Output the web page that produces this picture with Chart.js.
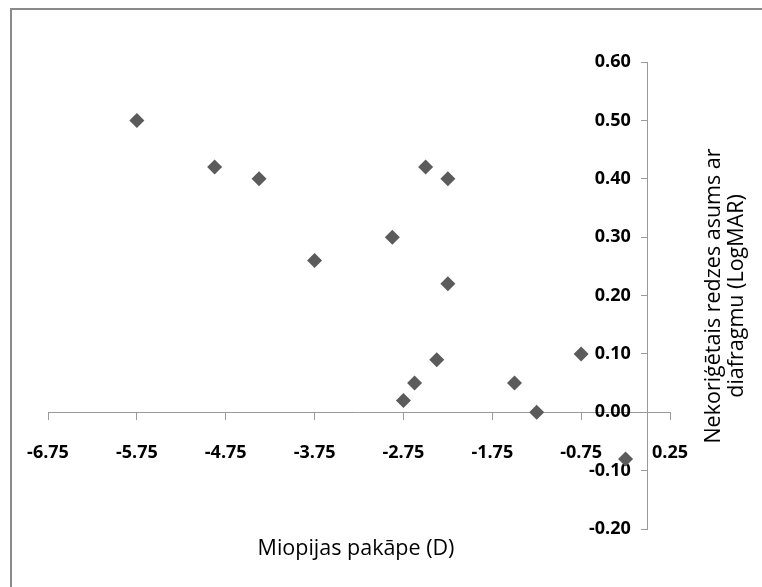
<!DOCTYPE html>
<html>
<head>
<meta charset="utf-8">
<script src="https://cdn.jsdelivr.net/npm/chart.js@4/dist/chart.umd.min.js"></script>
<style>
  html, body { margin: 0; padding: 0; background: #fff; }
  #wrap { position: relative; width: 762px; height: 587px; }
</style>
</head>
<body>
<div id="wrap"><canvas id="c" width="762" height="587"></canvas></div>
<script>
// Data
const myopiaD = [-5.75, -4.875, -4.375, -3.75, -2.875, -2.5, -2.25, -2.25, -2.375, -2.625, -2.75, -1.5, -1.25, -0.75, -0.25];
const logMAR  = [0.50, 0.42, 0.40, 0.26, 0.30, 0.42, 0.40, 0.22, 0.09, 0.05, 0.02, 0.05, 0.00, 0.10, -0.08];
const xTicks = [-6.75, -5.75, -4.75, -3.75, -2.75, -1.75, -0.75, 0.25];
const yTicks = [-0.20, -0.10, 0.00, 0.10, 0.20, 0.30, 0.40, 0.50, 0.60];
const xTitle = 'Miopijas pakāpe (D)';
const yTitleLines = ['Nekoriģētais redzes asums ar', 'diafragmu (LogMAR)'];

const points = myopiaD.map((x, i) => ({ x: x, y: logMAR[i] }));

const titlesPlugin = {
  id: 'titles',
  beforeDraw(chart) {
    const ctx = chart.ctx;
    ctx.save();
    ctx.strokeStyle = '#8a8a8a';
    ctx.lineWidth = 2;
    ctx.beginPath();
    ctx.moveTo(11, 587);
    ctx.lineTo(11, 9);
    ctx.lineTo(762, 9);
    ctx.stroke();
    ctx.restore();
  },
  afterDraw(chart) {
    const ctx = chart.ctx;
    ctx.save();
    ctx.fillStyle = '#000';
    ctx.textAlign = 'center';
    ctx.textBaseline = 'middle';
    ctx.font = '21.5px "Open Sans"';
    ctx.fillText(xTitle, 356, 549);
    ctx.translate(725, 296);
    ctx.rotate(-Math.PI / 2);
    ctx.fillText(yTitleLines[0], 0, -11);
    ctx.fillText(yTitleLines[1], 0, 12);
    ctx.restore();
  }
};

// y tick labels sit a little left of the crossing axis line
function shiftYLabels(scale) {
  if (scale._shifted) return;
  scale._shifted = true;
  const orig = scale.drawLabels;
  scale.drawLabels = function (area) {
    this.ctx.save();
    this.ctx.translate(-17, 0);
    orig.call(this, area);
    this.ctx.restore();
  };
}

const tickFont = { family: '"Open Sans"', size: 18, weight: 'bold' };

new Chart(document.getElementById('c'), {
  type: 'scatter',
  data: {
    datasets: [{
      data: points,
      pointStyle: 'rectRot',
      pointRadius: 7.5,
      pointHoverRadius: 7.5,
      backgroundColor: '#5b5b5b',
      borderColor: '#5b5b5b',
      borderWidth: 0
    }]
  },
  options: {
    responsive: false,
    animation: false,
    events: [],
    layout: { padding: { left: 48, right: 92, top: 62, bottom: 58 } },
    plugins: { legend: { display: false }, tooltip: { enabled: false } },
    scales: {
      x: {
        type: 'linear',
        min: -6.75,
        max: 0.25,
        position: { y: 0 },
        afterBuildTicks: (s) => { s.ticks = xTicks.map(v => ({ value: v })); },
        ticks: {
          callback: (v) => Number(v).toFixed(2),
          font: tickFont,
          color: '#000',
          padding: 23,
          maxRotation: 0,
          autoSkip: false
        },
        grid: { display: true, drawOnChartArea: false, drawTicks: true, tickLength: 7, color: '#9a9a9a' },
        border: { display: true, color: '#9a9a9a', width: 1 }
      },
      y: {
        type: 'linear',
        min: -0.2,
        max: 0.6,
        position: { x: 0 },
        afterBuildTicks: (s) => { s.ticks = yTicks.map(v => ({ value: v })); },
        afterUpdate: shiftYLabels,
        ticks: {
          callback: (v) => Number(v).toFixed(2),
          font: tickFont,
          color: '#000',
          padding: 11,
          autoSkip: false
        },
        grid: { display: true, drawOnChartArea: false, drawTicks: true, tickLength: 6, color: '#9a9a9a' },
        border: { display: true, color: '#9a9a9a', width: 1 }
      }
    }
  },
  plugins: [titlesPlugin]
});
</script>
</body>
</html>
